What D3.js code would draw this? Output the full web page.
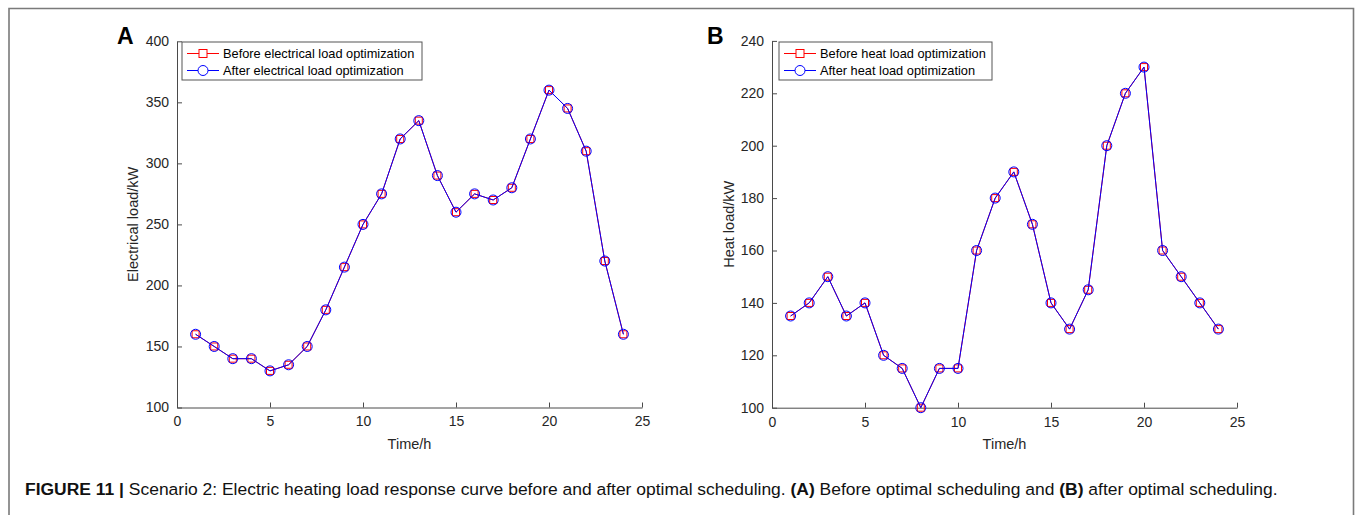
<!DOCTYPE html>
<html>
<head>
<meta charset="utf-8">
<script src="https://cdn.jsdelivr.net/npm/d3@7/dist/d3.min.js"></script>
<style>
  html, body { margin: 0; padding: 0; background: #fff; }
  svg { display: block; }
</style>
</head>
<body>
<svg id="fig" width="1355" height="515"></svg>
<script>
// Hourly load profiles for scenario 2
const hours = [1, 2, 3, 4, 5, 6, 7, 8, 9, 10, 11, 12, 13, 14, 15, 16, 17, 18, 19, 20, 21, 22, 23, 24];
const elecBefore = [160, 150, 140, 140, 130, 135, 150, 180, 215, 250, 275, 320, 335, 290, 260, 275, 270, 280, 320, 360, 345, 310, 220, 160];
const elecAfter  = [160, 150, 140, 140, 130, 135, 150, 180, 215, 250, 275, 320, 335, 290, 260, 275, 270, 280, 320, 360, 345, 310, 220, 160];
const heatBefore = [135, 140, 150, 135, 140, 120, 115, 100, 115, 115, 160, 180, 190, 170, 140, 130, 145, 200, 220, 230, 160, 150, 140, 130];
const heatAfter  = [135, 140, 150, 135, 140, 120, 115, 100, 115, 115, 160, 180, 190, 170, 140, 130, 145, 200, 220, 230, 160, 150, 140, 130];

const timeTicks = [0, 5, 10, 15, 20, 25];
const elecTicks = [100, 150, 200, 250, 300, 350, 400];
const heatTicks = [100, 120, 140, 160, 180, 200, 220, 240];

const svg = d3.select("#fig");
const FONT = "'Liberation Sans', Arial, Helvetica, sans-serif";
const AXIS_COLOR = "#4a4a4a";
const TEXT_COLOR = "#262626";

// outer figure frame (open at the bottom edge)
svg.append("path")
  .attr("d", "M9,520 L9,8.5 L1353.5,8.5 L1353.5,520")
  .attr("fill", "none")
  .attr("stroke", "#7a7a7a")
  .attr("stroke-width", 1.6);

function panel(cfg) {
  const x = d3.scaleLinear().domain([0, 25]).range([cfg.left, cfg.right]);
  const y = d3.scaleLinear().domain(cfg.yDomain).range([cfg.bottom, cfg.top]);
  const g = svg.append("g");

  // axes with inward ticks
  const xAxis = d3.axisBottom(x).tickValues(timeTicks).tickSizeInner(-5).tickSizeOuter(0).tickPadding(9);
  const yAxis = d3.axisLeft(y).tickValues(cfg.yTicks).tickSizeInner(-5).tickSizeOuter(0).tickPadding(8);

  const gx = g.append("g").attr("transform", `translate(0,${cfg.bottom})`).call(xAxis);
  const gy = g.append("g").attr("transform", `translate(${cfg.left},0)`).call(yAxis);
  [gx, gy].forEach(a => {
    a.select(".domain").attr("stroke", AXIS_COLOR).attr("stroke-width", 1);
    a.selectAll(".tick line").attr("stroke", AXIS_COLOR);
    a.selectAll(".tick text").attr("fill", TEXT_COLOR)
      .style("font-family", FONT).style("font-size", "14px");
  });

  // axis titles
  g.append("text")
    .attr("x", (cfg.left + cfg.right) / 2).attr("y", cfg.bottom + 41)
    .attr("text-anchor", "middle").attr("fill", TEXT_COLOR)
    .style("font-family", FONT).style("font-size", "14.5px")
    .text("Time/h");
  g.append("text")
    .attr("transform", `translate(${cfg.yLabelX},${(cfg.top + cfg.bottom) / 2}) rotate(-90)`)
    .attr("text-anchor", "middle").attr("fill", TEXT_COLOR)
    .style("font-family", FONT).style("font-size", "14.5px")
    .text(cfg.yLabel);

  // panel letter
  g.append("text")
    .attr("x", cfg.letterX).attr("y", 44)
    .attr("fill", "#000")
    .style("font-family", FONT).style("font-size", "23px").style("font-weight", "bold")
    .text(cfg.letter);

  const line = d3.line().x((d, i) => x(hours[i])).y(d => y(d));

  // before-optimization series (red squares)
  g.append("path").datum(cfg.before)
    .attr("d", line).attr("fill", "none").attr("stroke", "#ff0000").attr("stroke-width", 1);
  g.selectAll(".sq").data(cfg.before).enter().append("rect")
    .attr("x", (d, i) => x(hours[i]) - 3.5).attr("y", d => y(d) - 3.5)
    .attr("width", 7).attr("height", 7)
    .attr("fill", "none").attr("stroke", "#ff0000").attr("stroke-width", 1);

  // after-optimization series (blue circles)
  g.append("path").datum(cfg.after)
    .attr("d", line).attr("fill", "none").attr("stroke", "#0000ff").attr("stroke-width", 1);
  g.selectAll(".ci").data(cfg.after).enter().append("circle")
    .attr("cx", (d, i) => x(hours[i])).attr("cy", d => y(d))
    .attr("r", 5)
    .attr("fill", "none").attr("stroke", "#0000ff").attr("stroke-width", 1);

  // legend
  const lg = g.append("g");
  lg.append("rect")
    .attr("x", cfg.legend.x).attr("y", 42)
    .attr("width", cfg.legend.w).attr("height", 38)
    .attr("fill", "#fff").attr("stroke", "#555").attr("stroke-width", 1);
  const rows = [
    { label: cfg.legendLabels[0], color: "#ff0000", shape: "square", yy: 53.5 },
    { label: cfg.legendLabels[1], color: "#0000ff", shape: "circle", yy: 70.5 }
  ];
  rows.forEach(r => {
    const x0 = cfg.legend.x + 5, x1 = cfg.legend.x + 37, xm = (x0 + x1) / 2;
    lg.append("line").attr("x1", x0).attr("x2", x1).attr("y1", r.yy).attr("y2", r.yy)
      .attr("stroke", r.color).attr("stroke-width", 1);
    if (r.shape === "square") {
      lg.append("rect").attr("x", xm - 4).attr("y", r.yy - 4).attr("width", 8).attr("height", 8)
        .attr("fill", "#fff").attr("stroke", r.color);
    } else {
      lg.append("circle").attr("cx", xm).attr("cy", r.yy).attr("r", 5)
        .attr("fill", "#fff").attr("stroke", r.color);
    }
    lg.append("text").attr("x", cfg.legend.x + 41).attr("y", r.yy + 4.5)
      .attr("fill", "#000").style("font-family", FONT).style("font-size", "12.8px")
      .text(r.label);
  });
}

panel({
  left: 177, right: 642, top: 41.3, bottom: 407.5,
  yDomain: [100, 400], yTicks: elecTicks,
  yLabel: "Electrical load/kW", yLabelX: 138,
  letter: "A", letterX: 117,
  before: elecBefore, after: elecAfter,
  legend: { x: 182, w: 240 },
  legendLabels: ["Before electrical load optimization", "After electrical load optimization"]
});

panel({
  left: 772, right: 1237, top: 40.9, bottom: 407.7,
  yDomain: [100, 240], yTicks: heatTicks,
  yLabel: "Heat load/kW", yLabelX: 734,
  letter: "B", letterX: 707,
  before: heatBefore, after: heatAfter,
  legend: { x: 779, w: 213 },
  legendLabels: ["Before heat load optimization", "After heat load optimization"]
});

// figure caption
const cap = svg.append("text")
  .attr("x", 25).attr("y", 495)
  .attr("fill", "#111")
  .style("font-family", FONT).style("font-size", "17px");
cap.append("tspan").style("font-weight", "bold").text("FIGURE 11");
cap.append("tspan").style("font-weight", "bold").text(" | ");
cap.append("tspan").text("Scenario 2: Electric heating load response curve before and after optimal scheduling. ");
cap.append("tspan").style("font-weight", "bold").text("(A)");
cap.append("tspan").text(" Before optimal scheduling and ");
cap.append("tspan").style("font-weight", "bold").text("(B)");
cap.append("tspan").text(" after optimal scheduling.");
// condense the caption horizontally to the column width
const capW = cap.node().getComputedTextLength();
const sx = 1254 / capW;
cap.attr("transform", `translate(25,0) scale(${sx},1) translate(-25,0)`);
</script>
</body>
</html>
